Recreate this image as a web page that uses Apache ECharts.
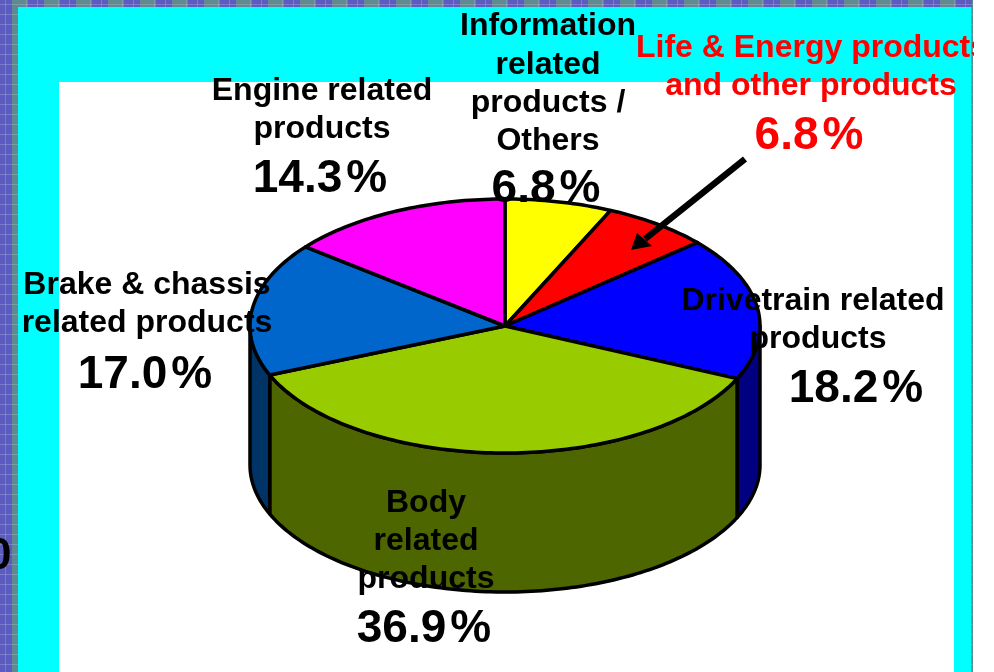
<!DOCTYPE html>
<html><head><meta charset="utf-8">
<style>html,body{margin:0;padding:0;background:#fff}#c{width:994px;height:672px}</style>
<script src="https://cdn.jsdelivr.net/npm/echarts@6/dist/echarts.min.js"></script>
</head><body><div id="c"></div>
<script>
const categories = ['Information related products / Others','Life & Energy products and other products','Drivetrain related products','Body related products','Brake & chassis related products','Engine related products'];
const values = [6.8, 6.8, 18.2, 36.9, 17.0, 14.3];
const topColors = ['#ffff00','#ff0000','#0000ff','#99cc00','#0066cc','#ff00ff'];
const sideColors = ['#808000','#800000','#000080','#4d6600','#003366','#800080'];
const labelLines = [
  ['Information','related','products /','Others'],
  ['Life & Energy products','and other products'],
  ['Drivetrain related','products'],
  ['Body','related','products'],
  ['Brake & chassis','related products'],
  ['Engine related','products']
];
const labelColors = ['#000','#ff0000','#000','#000','#000','#000'];
// layout only: [x, y] of each text line, last entry is the percentage
const labelPos = [
  [[548,26],[548,65],[548,103],[548,141],[546,189]],
  [[812,48],[811,86],[809,136]],
  [[813,301],[818,339],[856,389]],
  [[426,503],[426,541],[426,579],[424,629]],
  [[147,285],[147,323],[145,375]],
  [[322,91],[322,129],[320,179]]
];
const C = {cx:505, cy:326, rx:255, ry:127, depth:139};
const total = values.reduce((a,b)=>a+b,0);
function pt(t, dy){ return [C.cx + C.rx*Math.sin(t), C.cy + C.ry*-Math.cos(t) + (dy||0)]; }
function arc(a,b,dy){ const n=Math.max(2,Math.ceil((b-a)/0.02)); const p=[]; for(let i=0;i<=n;i++){p.push(pt(a+(b-a)*i/n,dy));} return p; }
const stroke = {stroke:'#000', lineWidth:3.5, lineJoin:'round'};
function renderSlice(params, api){
  const i = params.dataIndex;
  let s=0; for(let k=0;k<i;k++) s+=values[k];
  const a = s/total*2*Math.PI, b=(s+values[i])/total*2*Math.PI;
  const children=[];
  const lo=Math.max(a,Math.PI/2), hi=Math.min(b,Math.PI*1.5);
  if(hi>lo){
    children.push({type:'polygon',shape:{points:arc(lo,hi,0).concat(arc(lo,hi,C.depth).reverse())},
      style:Object.assign({fill:sideColors[i]},stroke)});
  }
  children.push({type:'polygon',shape:{points:[[C.cx,C.cy]].concat(arc(a,b,0))},
    style:Object.assign({fill:topColors[i]},stroke)});
  return {type:'group',children};
}
const FONT='bold 32px "Liberation Sans"', PFONT='bold 46px "Liberation Sans"', PGAP=4;
const mctx=document.createElement('canvas').getContext('2d');
mctx.font=PFONT;
function renderLabel(params, api){
  const i = params.dataIndex, pos = labelPos[i], ch=[];
  labelLines[i].forEach((l,j)=>ch.push({type:'text',x:pos[j][0],y:pos[j][1],
    style:{text:l,fill:labelColors[i],font:FONT,align:'center',verticalAlign:'middle'}}));
  const p=pos[pos.length-1], num=values[i].toFixed(1);
  const wn=mctx.measureText(num).width, wp=mctx.measureText('%').width, x0=p[0]-(wn+PGAP+wp)/2;
  ch.push({type:'text',x:x0,y:p[1],style:{text:num,fill:labelColors[i],font:PFONT,align:'left',verticalAlign:'middle'}});
  ch.push({type:'text',x:x0+wn+PGAP,y:p[1],style:{text:'%',fill:labelColors[i],font:PFONT,align:'left',verticalAlign:'middle'}});
  return {type:'group',children:ch};
}
const tile=document.createElement('canvas');tile.width=32;tile.height=10;
const g=tile.getContext('2d');
g.fillStyle='#5c5cc0';g.fillRect(0,0,32,10);
g.fillStyle='#5f8a90';g.fillRect(12,0,16,10);
g.fillStyle='rgba(190,190,230,0.32)';g.fillRect(0,4,32,1);[5,26].forEach(x=>g.fillRect(x,0,1,10));
const seriesData = categories.map((n,i)=>({name:n,value:values[i]}));
const chart=echarts.init(document.getElementById('c'),null,{renderer:'canvas'});
chart.setOption({
  animation:false,
  graphic:[
    {type:'rect',z:0,shape:{x:0,y:0,width:973,height:672},style:{fill:{image:tile,repeat:'repeat'}}},
    {type:'rect',z:2,shape:{x:18,y:7,width:953.5,height:665},style:{fill:'#00ffff'}},
    {type:'rect',z:3,shape:{x:59,y:82,width:895,height:590},style:{fill:'#ffffff'}},
    {type:'text',z:20,x:-13,y:557,style:{text:'0',font:'bold 44px "Liberation Sans"',fill:'#000',verticalAlign:'middle'}},
    {type:'rect',z:50,shape:{x:974,y:0,width:20,height:672},style:{fill:'#ffffff'}},
    {type:'line',z:30,shape:{x1:745,y1:159,x2:645,y2:239},style:{stroke:'#000',lineWidth:6.5}},
    {type:'polygon',z:30,shape:{points:[[631,250],[637,233],[652,246]]},style:{fill:'#000'}}
  ],
  series:[
    {type:'custom',coordinateSystem:'none',name:'Share',data:seriesData,renderItem:renderSlice,z:10,silent:true},
    {type:'custom',coordinateSystem:'none',name:'Labels',data:seriesData,renderItem:renderLabel,z:40,silent:true}
  ]
});
</script></body></html>
